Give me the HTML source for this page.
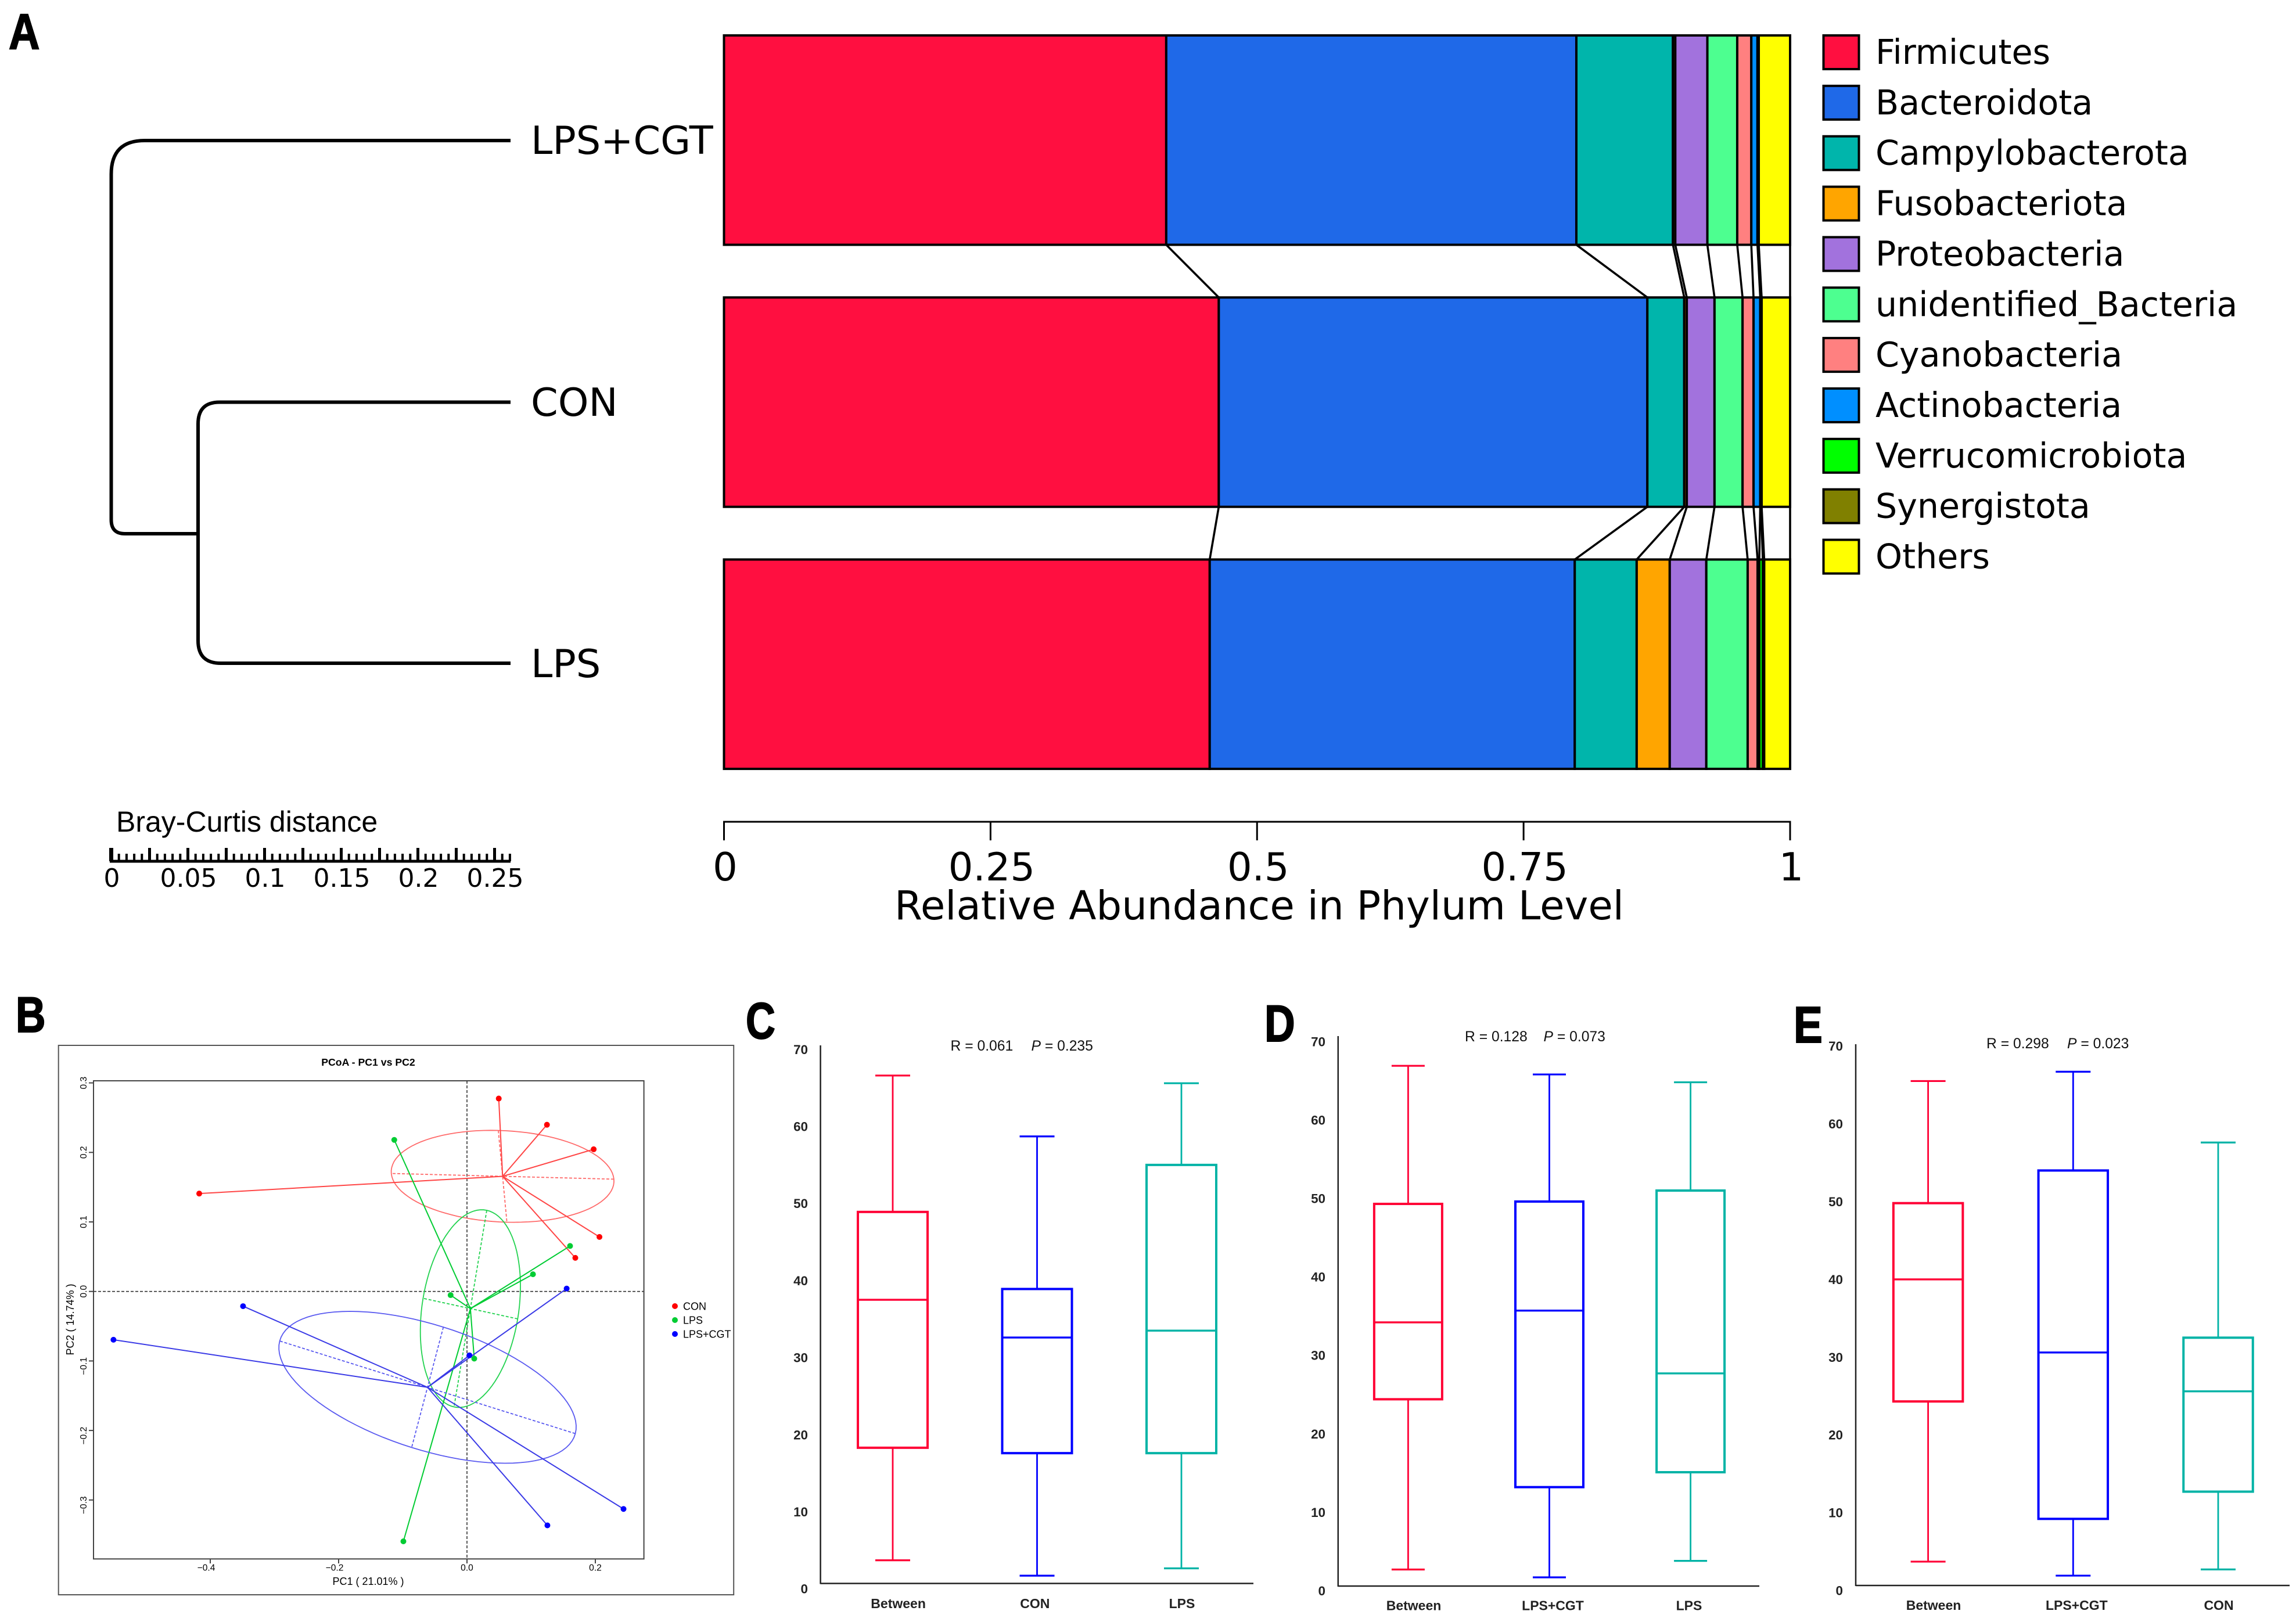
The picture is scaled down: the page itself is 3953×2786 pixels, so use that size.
<!DOCTYPE html>
<html lang="en">
<head>
<meta charset="utf-8">
<title>Gut microbiota composition, PCoA and ANOSIM box plots</title>
<style>
html,body{margin:0;padding:0;background:#fff;width:3953px;height:2786px;overflow:hidden}
svg{display:block}
text{font-family:"Liberation Sans",sans-serif;fill:#000}
.dj{font-family:"DejaVu Sans",sans-serif}
.letter{font-family:"Liberation Sans",sans-serif;font-weight:700;stroke:#000;stroke-width:2px}
</style>
</head>
<body>
<svg id="fig" xmlns="http://www.w3.org/2000/svg" width="3953" height="2786" viewBox="0 0 3953 2786">
  <rect width="3953" height="2786" fill="#fff"/>

  <text class="letter" transform="translate(15,84) scale(.86,1)" font-size="86">A</text>
  <text class="letter" transform="translate(27,1777) scale(.83,1)" font-size="86">B</text>
  <text class="letter" transform="translate(1284,1788) scale(.8,1)" font-size="88">C</text>
  <text class="letter" transform="translate(2177,1793) scale(.82,1)" font-size="89">D</text>
  <text class="letter" transform="translate(3088,1795) scale(.85,1)" font-size="88">E</text>

  <g fill="none" stroke="#000" stroke-width="6">
    <path d="M879,242 H249 Q191.5,242 191.5,300 V895 Q191.5,919 215,919 H341"/>
    <path d="M879,692.5 H378 Q341,692.5 341,730 V1103 Q341,1142 380,1142 H879"/>
  </g>
  <text class="dj" x="914" y="265" font-size="67">LPS+CGT</text>
  <text class="dj" x="914" y="716" font-size="67">CON</text>
  <text class="dj" x="914" y="1166" font-size="67">LPS</text>

  <text x="200" y="1432" font-size="50">Bray-Curtis distance</text>
  <g id="scaleBar"></g>

  <g id="stack"></g>
  <g id="stackAxis"></g>
  <text class="dj" x="2168" y="1583" font-size="69" text-anchor="middle">Relative Abundance in Phylum Level</text>
  <g id="legend"></g>

  <rect x="100.7" y="1800" width="1162.5" height="946" fill="none" stroke="#555" stroke-width="2"/>
  <text x="634" y="1835" font-size="17.7" font-weight="700" text-anchor="middle">PCoA - PC1 vs PC2</text>
  <text x="634" y="2729" font-size="18" text-anchor="middle">PC1 ( 21.01% )</text>
  <text transform="translate(127,2272) rotate(-90)" font-size="18" text-anchor="middle">PC2 ( 14.74% )</text>
  <g id="pcoa"></g>

  <g id="boxC"></g>
  <g id="boxD"></g>
  <g id="boxE"></g>
</svg>

<script>
/* ---------- Panel A data ---------- */
const phyla = ['Firmicutes','Bacteroidota','Campylobacterota','Fusobacteriota','Proteobacteria','unidentified_Bacteria','Cyanobacteria','Actinobacteria','Verrucomicrobiota','Synergistota','Others'];
const phylumColors = ['#FF0F40','#1F69E8','#00B5AB','#FFA500','#A272DD','#4DFF90','#FF8080','#008FFF','#00FF00','#808000','#FFFF00'];
const stackGroups = ['LPS+CGT','CON','LPS'];
const abundanceLpsCgt = [.4148,.3847,.0906,.0022,.0301,.0280,.0132,.0058,.0007,.0005,.0294];
const abundanceCon = [.4641,.4020,.0346,.0024,.0260,.0263,.0103,.0063,.0008,.0005,.0267];
const abundanceLps = [.4556,.3424,.0581,.0310,.0343,.0388,.0093,.0016,.0033,.0013,.0243];
const abundanceTicks = [0,0.25,0.5,0.75,1];
const scaleBarLabels = [0,0.05,0.1,0.15,0.2,0.25];

/* ---------- Panel B data ---------- */
const pcoaGroups = ['CON','LPS','LPS+CGT'];
const conPC1 = [.0495,.1246,.1974,.2064,.1688,-.4172];
const conPC2 = [.2775,.2398,.2045,.0784,.0483,.1408];
const lpsPC1 = [-.1133,-.0255,.1028,.1606,.0113,-.0991];
const lpsPC2 = [.2180,-.0053,.0247,.0654,-.0966,-.3595];
const cgtPC1 = [-.3489,-.5508,.0038,.1553,.2439,.1253];
const cgtPC2 = [-.0212,-.0695,-.0919,.0041,-.3129,-.3365];
const centroidPC1 = [.0555,.0053,-.0615];
const centroidPC2 = [.1656,-.0247,-.1379];
const ellipseMajorPC1 = [.2289,.0308,.1688];
const ellipseMajorPC2 = [.1615,.1167,-.2045];
const ellipseMinorPC1 = [.0488,.0790,-.0368];
const ellipseMinorPC2 = [.2316,-.0395,-.0513];
const pc1Ticks = [-0.4,-0.2,0,0.2];
const pc2Ticks = [-0.3,-0.2,-0.1,0,0.1,0.2,0.3];

/* ---------- Panels C, D, E data ---------- */
const boxValueTicks = [0,10,20,30,40,50,60,70];
const boxCCategories = ['Between','CON','LPS'];
const boxCHigh = [66.6,58.7,65.6];
const boxCQ3 = [48.9,38.9,55.0];
const boxCMedian = [37.5,32.6,33.5];
const boxCQ1 = [18.3,17.6,17.6];
const boxCLow = [3.7,1.7,2.65];
const boxDCategories = ['Between','LPS+CGT','LPS'];
const boxDHigh = [66.9,65.8,64.8];
const boxDQ3 = [49.3,49.6,51.0];
const boxDMedian = [34.2,35.7,27.7];
const boxDQ1 = [24.4,13.2,15.1];
const boxDLow = [2.7,1.7,3.8];
const boxECategories = ['Between','LPS+CGT','CON'];
const boxEHigh = [65.5,66.7,57.6];
const boxEQ3 = [49.8,54.0,32.5];
const boxEMedian = [40.0,30.6,25.6];
const boxEQ1 = [24.3,9.2,12.7];
const boxELow = [3.7,1.9,2.7];

const NS = 'http://www.w3.org/2000/svg';
function mk(parent, tag, attrs, text) {
  const node = document.createElementNS(NS, tag);
  for (const k in attrs) node.setAttribute(k, attrs[k]);
  if (text !== undefined) node.textContent = text;
  parent.appendChild(node);
  return node;
}
function slug(s) { return String(s).toLowerCase().replace(/[^a-z0-9]+/g, '-'); }

/* ---------- Panel A ---------- */
(function () {
  const stack = document.getElementById('stack');
  const axis = document.getElementById('stackAxis');
  const legend = document.getElementById('legend');
  const X0 = 1246.5, X1 = 3082, ROW_H = 360.5;
  const xAb = v => X0 + (X1 - X0) * v;
  const rowTop = i => 61 + i * 451.2;
  const rows = [abundanceLpsCgt, abundanceCon, abundanceLps];

  const cumulative = rows.map(vals => {
    let c = 0;
    return vals.map(v => (c += v));
  });
  const total = cumulative.map(c => c[c.length - 1]);

  rows.forEach((vals, r) => {
    let start = 0;
    vals.forEach((v, i) => {
      const seg = mk(stack, 'rect', {
        x: xAb(start / total[r]), y: rowTop(r),
        width: xAb((start + v) / total[r]) - xAb(start / total[r]), height: ROW_H,
        fill: phylumColors[i], stroke: '#000', 'stroke-width': 4
      });
      
      
      start += v;
    });
  });

  for (let r = 0; r < rows.length - 1; r++) {
    phyla.forEach((p, i) => {
      const link = mk(stack, 'line', {
        x1: xAb(cumulative[r][i] / total[r]), y1: rowTop(r) + ROW_H,
        x2: xAb(cumulative[r + 1][i] / total[r + 1]), y2: rowTop(r + 1),
        stroke: '#000', 'stroke-width': 3.6
      });
      
      
    });
  }

  const axisLine = mk(axis, 'line', {x1: X0 - 1.5, x2: X1 + 1.5, y1: 1415, y2: 1415, stroke: '#000', 'stroke-width': 3});
  
  
  abundanceTicks.forEach(t => {
    const tick = mk(axis, 'line', {x1: xAb(t), x2: xAb(t), y1: 1415, y2: 1447, stroke: '#000', 'stroke-width': 3});
    
    
    const lab = mk(axis, 'text', {x: xAb(t) + 2, y: 1516, 'font-size': 67, 'text-anchor': 'middle', class: 'dj'}, String(t));
    
    
  });

  phyla.forEach((p, i) => {
    const top = 61 + i * 86.85;
    const sw = mk(legend, 'rect', {x: 3139.5, y: top, width: 61, height: 58, fill: phylumColors[i], stroke: '#000', 'stroke-width': 4});
    
    
    const lab = mk(legend, 'text', {x: 3229, y: top + 49, 'font-size': 58.6, class: 'dj'}, p);
    
    
  });

  /* distance scale bar */
  const sb = document.getElementById('scaleBar');
  const xD = v => 191.5 + 2640 * v;
  const base = mk(sb, 'line', {x1: 189, x2: 879, y1: 1483, y2: 1483, stroke: '#000', 'stroke-width': 5});
  
  
  for (let k = 0; k <= 52; k++) {
    const major = k % 5 === 0;
    const tick = mk(sb, 'line', {x1: xD(k * 0.005), x2: xD(k * 0.005), y1: major ? 1460 : 1470, y2: 1483, stroke: '#000', 'stroke-width': major ? (k === 0 ? 7 : 5) : 4});
    
    
  }
  scaleBarLabels.forEach(v => {
    const lab = mk(sb, 'text', {x: xD(v) + 1, y: 1527, 'font-size': 44, 'text-anchor': 'middle', class: 'dj'}, String(v));
    
    
  });
})();

/* ---------- Panel B ---------- */
(function () {
  const g = document.getElementById('pcoa');
  const xP = v => 804 + 1105 * v;
  const yP = v => 2223.7 - 1197 * v;
  const lineColors = ['#ff4545','#00cc33','#3a3ae6'];
  const ellipseColors = ['#ff6a6a','#22d24f','#5a5af0'];
  const pointColors = ['#ff0000','#00cc33','#0000ff'];
  const pc1Series = [conPC1, lpsPC1, cgtPC1];
  const pc2Series = [conPC2, lpsPC2, cgtPC2];

  const frame = mk(g, 'rect', {x: 161, y: 1861, width: 947.6, height: 823.3, fill: 'none', stroke: '#444', 'stroke-width': 2});
  
  

  const zeroV = mk(g, 'line', {x1: xP(0), x2: xP(0), y1: 1861, y2: 2684, stroke: '#333', 'stroke-width': 1.6, 'stroke-dasharray': '5 3'});
  
  
  const zeroH = mk(g, 'line', {x1: 161, x2: 1108, y1: yP(0), y2: yP(0), stroke: '#333', 'stroke-width': 1.6, 'stroke-dasharray': '5 3'});
  
  

  pc1Ticks.forEach(v => {
    const t = mk(g, 'line', {x1: xP(v), x2: xP(v), y1: 2684, y2: 2692, stroke: '#444', 'stroke-width': 2});
    
    
    const lab = mk(g, 'text', {x: xP(v) + (v < 0 ? -7 : 0), y: 2704.5, 'font-size': 15.6, 'text-anchor': 'middle'}, (v < 0 ? '\u2212' : '') + Math.abs(v).toFixed(1));
    
    
  });
  pc2Ticks.forEach(v => {
    const t = mk(g, 'line', {x1: 153, x2: 161, y1: yP(v), y2: yP(v), stroke: '#444', 'stroke-width': 2});
    
    
    const lab = mk(g, 'text', {transform: 'translate(149,' + (yP(v) + (v < 0 ? 9 : 0)) + ') rotate(-90)', 'font-size': 15.6, 'text-anchor': 'middle'}, (v < 0 ? '\u2212' : '') + Math.abs(v).toFixed(1));
    
    
  });

  pcoaGroups.forEach((name, s) => {
    const grp = mk(g, 'g', {});
    
    
    const cx = centroidPC1[s], cy = centroidPC2[s];
    const ax = ellipseMajorPC1[s] - cx, ay = ellipseMajorPC2[s] - cy;
    const bx = ellipseMinorPC1[s] - cx, by = ellipseMinorPC2[s] - cy;
    let d = '';
    for (let k = 0; k <= 96; k++) {
      const t = k / 96 * Math.PI * 2;
      const px = cx + ax * Math.cos(t) + bx * Math.sin(t);
      const py = cy + ay * Math.cos(t) + by * Math.sin(t);
      d += (k ? 'L' : 'M') + xP(px).toFixed(1) + ',' + yP(py).toFixed(1);
    }
    const ell = mk(grp, 'path', {d: d + 'Z', fill: 'none', stroke: ellipseColors[s], 'stroke-width': 1.8});
    
    

    const major = mk(grp, 'line', {x1: xP(cx + ax), y1: yP(cy + ay), x2: xP(cx - ax), y2: yP(cy - ay), stroke: ellipseColors[s], 'stroke-width': 1.8, 'stroke-dasharray': '5 3'});
    
    
    const minor = mk(grp, 'line', {x1: xP(cx + bx), y1: yP(cy + by), x2: xP(cx - bx), y2: yP(cy - by), stroke: ellipseColors[s], 'stroke-width': 1.8, 'stroke-dasharray': '5 3'});
    
    

    pc1Series[s].forEach((v, i) => {
      const spoke = mk(grp, 'line', {x1: xP(cx), y1: yP(cy), x2: xP(v), y2: yP(pc2Series[s][i]), stroke: lineColors[s], 'stroke-width': 2});
      
      
    });
    pc1Series[s].forEach((v, i) => {
      const pt = mk(grp, 'circle', {cx: xP(v), cy: yP(pc2Series[s][i]), r: 5, fill: pointColors[s]});
      
      
    });

    const ly = 2249 + s * 24;
    const dot = mk(grp, 'circle', {cx: 1162, cy: ly, r: 5, fill: pointColors[s]});
    
    
    const lab = mk(grp, 'text', {x: 1176, y: ly + 6.5, 'font-size': 18}, name);
    
    
  });
})();

/* ---------- Panels C, D, E ---------- */
const boxColors = [['#ff0035','#0000ff','#00b3a6'],['#ff0035','#0000ff','#00b3a6'],['#ff0035','#0000ff','#00b3a6']];
function drawBoxPanel(id, cfg, cats, hi, q3, med, q1, lo, colors) {
  const g = document.getElementById(id);
  const yV = v => cfg.y0 - cfg.perUnit * v;
  const xC = i => cfg.x0 + i * cfg.step;

  const yAxis = mk(g, 'line', {x1: cfg.axisX, x2: cfg.axisX, y1: cfg.axisTop, y2: cfg.axisBottom + 1, stroke: '#222', 'stroke-width': 2.5});
  
  
  const xAxis = mk(g, 'line', {x1: cfg.axisX, x2: cfg.axisRight, y1: cfg.axisBottom, y2: cfg.axisBottom, stroke: '#222', 'stroke-width': 2.5});
  
  

  boxValueTicks.forEach(v => {
    const lab = mk(g, 'text', {x: cfg.labelRight, y: yV(v) + 8, 'font-size': 22.4, 'font-weight': 700, 'text-anchor': 'end', style: 'fill:#222'}, String(v));
    
    
  });

  cats.forEach((c, i) => {
    const col = colors[i];
    const grp = mk(g, 'g', {fill: 'none', stroke: col});
    
    
    const x = xC(i), hw = cfg.boxW / 2, cw = cfg.capW / 2;
    const up = mk(grp, 'line', {x1: x, x2: x, y1: yV(hi[i]), y2: yV(q3[i]), 'stroke-width': 2.8});
    
    
    const down = mk(grp, 'line', {x1: x, x2: x, y1: yV(q1[i]), y2: yV(lo[i]), 'stroke-width': 2.8});
    
    
    const capHi = mk(grp, 'line', {x1: x - cw, x2: x + cw, y1: yV(hi[i]), y2: yV(hi[i]), 'stroke-width': 3.2});
    
    
    const capLo = mk(grp, 'line', {x1: x - cw, x2: x + cw, y1: yV(lo[i]), y2: yV(lo[i]), 'stroke-width': 3.2});
    
    
    const rect = mk(grp, 'rect', {x: x - hw, y: yV(q3[i]), width: cfg.boxW, height: yV(q1[i]) - yV(q3[i]), 'stroke-width': 4});
    
    
    const m = mk(grp, 'line', {x1: x - hw, x2: x + hw, y1: yV(med[i]), y2: yV(med[i]), 'stroke-width': 3.4});
    
    
    const lab = mk(g, 'text', {x: x + cfg.catNudge[i], y: cfg.catY, 'font-size': 23, 'font-weight': 700, 'text-anchor': 'middle', style: 'fill:#222'}, c);
    
    
  });

  const r = mk(g, 'text', {x: cfg.rX, y: cfg.statY, 'font-size': 24.7, style: 'fill:#111'}, cfg.rText);
  
  
  const p = mk(g, 'text', {x: cfg.pX, y: cfg.statY, 'font-size': 24.7, style: 'fill:#111'});
  
  
  mk(p, 'tspan', {'font-style': 'italic'}, 'P');
  mk(p, 'tspan', {}, cfg.pText);
}

drawBoxPanel('boxC', {
  y0: 2735.7, perUnit: 13.27, x0: 1537, step: 248.5, boxW: 120, capW: 60,
  axisX: 1412.6, axisTop: 1800, axisBottom: 2726.5, axisRight: 2158, labelRight: 1391,
  catNudge: [9.6, -3.7, 1], catY: 2769, rX: 1636.5, pX: 1775.5, statY: 1809,
  rText: 'R = 0.061', pText: ' = 0.235'
}, boxCCategories, boxCHigh, boxCQ3, boxCMedian, boxCQ1, boxCLow, boxColors[0]);

drawBoxPanel('boxD', {
  y0: 2739, perUnit: 13.51, x0: 2424.4, step: 243.1, boxW: 117, capW: 57,
  axisX: 2303.8, axisTop: 1784, axisBottom: 2731, axisRight: 3029, labelRight: 2282,
  catNudge: [9.6, 6, -2.6], catY: 2772.6, rX: 2522, pX: 2657.5, statY: 1793,
  rText: 'R = 0.128', pText: ' = 0.073'
}, boxDCategories, boxDHigh, boxDQ3, boxDMedian, boxDQ1, boxDLow, boxColors[1]);

drawBoxPanel('boxE', {
  y0: 2738.5, perUnit: 13.39, x0: 3319.6, step: 249.7, boxW: 119.5, capW: 60,
  axisX: 3195, axisTop: 1798, axisBottom: 2730, axisRight: 3942, labelRight: 3173,
  catNudge: [9.4, 6, 1], catY: 2772, rX: 3420, pX: 3559, statY: 1805,
  rText: 'R = 0.298', pText: ' = 0.023'
}, boxECategories, boxEHigh, boxEQ3, boxEMedian, boxEQ1, boxELow, boxColors[2]);
</script>
</body>
</html>
